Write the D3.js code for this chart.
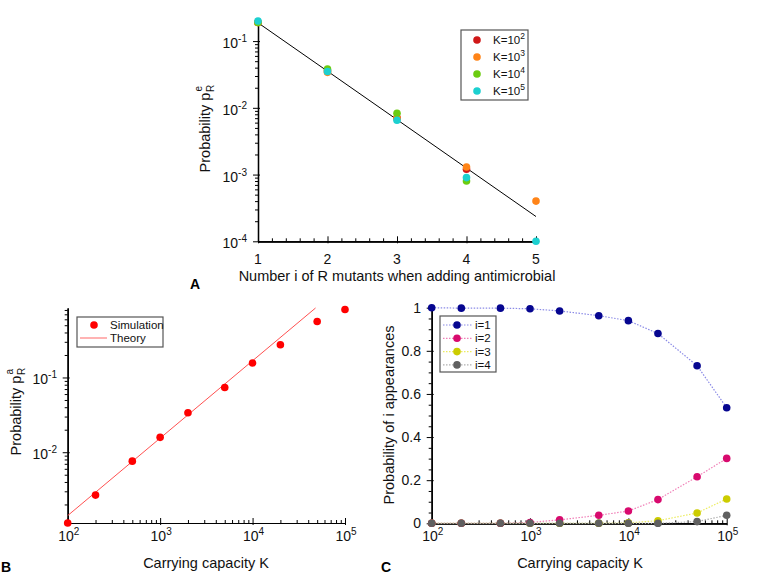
<!DOCTYPE html>
<html>
<head>
<meta charset="utf-8">
<script src="https://cdn.jsdelivr.net/npm/d3@7"></script>
<style>
  body { margin: 0; background: #fff; }
  svg { font-family: "Liberation Sans", Arial, sans-serif; }
</style>
</head>
<body>
<div id="chart"></div>
<script>
// ---- panel A data: probability vs number i of R mutants
var mutants = [1, 2, 3, 4, 5];
var pK2 = [0.19, 0.036, 0.0071, 0.0012, null];
var pK3 = [0.19, 0.034, 0.0070, 0.0013, 0.0004];
var pK4 = [0.19, 0.038, 0.0083, 0.0008, null];
var pK5 = [0.2, 0.035, 0.0065, 0.0009, 0.0001];
var theoryA = [0.188, 0.0354, 0.00665, 0.00125, 0.000235];
var legendA = ["2", "3", "4", "5"];

// ---- panel B data: probability vs carrying capacity
var capacity = [100, 200, 500, 1000, 2000, 5000, 10000, 20000, 50000, 100000];
var simB = [0.00113, 0.00267, 0.0076, 0.0158, 0.0337, 0.0735, 0.156, 0.274, 0.56, 0.81];
var theoryK = [100, 48000];
var theoryB = [0.00142, 0.85];

// ---- panel C data: probability of i appearances
var appear1 = [1.0, 0.998, 0.998, 0.995, 0.985, 0.963, 0.940, 0.880, 0.731, 0.536];
var appear2 = [0, 0, 0, 0.004, 0.016, 0.037, 0.057, 0.110, 0.216, 0.301];
var appear3 = [0, 0, 0, 0, 0, 0, 0.002, 0.012, 0.048, 0.113];
var appear4 = [0, 0, 0, 0, 0, 0, 0, 0, 0.008, 0.037];
var legendC = ["i=1", "i=2", "i=3", "i=4"];

var colA = ["#d01818", "#ff8418", "#6ccc10", "#1cd0d0"];
var colC = ["#060690", "#d80a6e", "#cccc00", "#606060"];
var lineC = ["#8a8ae6", "#f080b8", "#ecec60", "#b0b0b0"];

var svg = d3.select("#chart").append("svg")
  .attr("width", 764)
  .attr("height", 574);

function logMinors(lo, hi) { // 2..9 times each decade, inside [lo,hi]
  var out = [];
  for (var e = Math.floor(Math.log10(lo)); e <= Math.ceil(Math.log10(hi)); e++) {
    for (var m = 2; m <= 9; m++) {
      var v = m * Math.pow(10, e);
      if (v >= lo * 0.999 && v <= hi * 1.001) out.push(v);
    }
  }
  return out;
}

// draws one axis with inward minor ticks and crossing majors, no labels
function drawAxis(axisFn, scale, pos, majors, minors, inwardSign) {
  var g = svg.append("g").attr("transform", pos);
  g.append("g").call(axisFn(scale).tickValues(minors).tickSize(-3 * inwardSign).tickSizeOuter(0).tickFormat(""));
  g.append("g").call(axisFn(scale).tickValues(majors).tickSize(-5 * inwardSign).tickSizeOuter(0).tickFormat(""));
  g.append("g").call(axisFn(scale).tickValues(majors).tickSize(2 * inwardSign).tickSizeOuter(0).tickFormat(""));
  g.selectAll("path.domain").attr("stroke", "#000").attr("stroke-width", 1.2);
  g.selectAll(".tick line").attr("stroke", "#000").attr("stroke-width", 1);
  return g;
}

function powLabel(x, y, exp, anchor) { // "10" with superscript exponent
  var t = svg.append("text").attr("x", x).attr("y", y)
    .attr("text-anchor", anchor).attr("font-size", 14).attr("fill", "#111");
  t.append("tspan").text("10");
  t.append("tspan").attr("dy", -6).attr("font-size", 10).text(exp);
}

function probLabel(cx, cy, sup) { // rotated "Probability p" with sub R and sup
  var g = svg.append("g").attr("transform", "translate(" + cx + "," + cy + ") rotate(-90)");
  var main = g.append("text").attr("font-size", 14.5).attr("fill", "#111").text("Probability p");
  var w = main.node().getComputedTextLength();
  var total = w + 9;
  main.attr("x", -total / 2);
  g.append("text").attr("x", -total / 2 + w + 0.5).attr("y", 4).attr("font-size", 10).attr("fill", "#111").text("R");
  g.append("text").attr("x", -total / 2 + w + 1).attr("y", -8).attr("font-size", 10).attr("fill", "#111").text(sup);
}

// ================= PANEL A =================
var xA = d3.scaleLinear().domain([1, 5]).range([258, 536]);
var yA = d3.scaleLog().domain([1e-4, 0.2]).range([241.3, 21]);

var minorX = d3.range(1, 5.01, 0.2).filter(function (v) { return Math.abs(v - Math.round(v)) > 0.01; });
drawAxis(d3.axisBottom, xA, "translate(0," + yA(1e-4) + ")", mutants, minorX, 1);
drawAxis(d3.axisLeft, yA, "translate(" + xA(1) + ",0)", [1e-4, 1e-3, 1e-2, 1e-1], logMinors(1e-4, 0.2), -1);

mutants.forEach(function (m) {
  svg.append("text").attr("x", xA(m)).attr("y", 264).attr("text-anchor", "middle")
    .attr("font-size", 14).attr("fill", "#111").text(m);
});
[1e-4, 1e-3, 1e-2, 1e-1].forEach(function (v) {
  powLabel(247, yA(v) + 7, String(Math.round(Math.log10(v))), "end");
});
svg.append("text").attr("x", 397).attr("y", 281).attr("text-anchor", "middle")
  .attr("font-size", 14.5).attr("fill", "#111").text("Number i of R mutants when adding antimicrobial");
probLabel(210, 128, "e");

svg.append("path")
  .datum(mutants.map(function (m, i) { return [m, theoryA[i]]; }))
  .attr("d", d3.line().x(function (d) { return xA(d[0]); }).y(function (d) { return yA(d[1]); }))
  .attr("fill", "none").attr("stroke", "#000").attr("stroke-width", 1);

[pK2, pK3, pK4, pK5].forEach(function (series, s) {
  svg.append("g").selectAll("circle")
    .data(mutants.map(function (m, i) { return [m, series[i]]; }).filter(function (d) { return d[1] != null; }))
    .join("circle")
    .attr("cx", function (d) { return xA(d[0]); })
    .attr("cy", function (d) { return yA(d[1]); })
    .attr("r", 3.8)
    .attr("fill", colA[s]);
});

svg.append("rect").attr("x", 461).attr("y", 30).attr("width", 67).attr("height", 70)
  .attr("fill", "#fff").attr("stroke", "#555").attr("stroke-width", 1.2);
legendA.forEach(function (e, i) {
  var ly = 40 + i * 17;
  svg.append("circle").attr("cx", 477).attr("cy", ly).attr("r", 3.8).attr("fill", colA[i]);
  var t = svg.append("text").attr("x", 493).attr("y", ly + 4).attr("font-size", 11.5).attr("fill", "#111");
  t.append("tspan").text("K=10");
  t.append("tspan").attr("dy", -5).attr("font-size", 8.5).text(e);
});

svg.append("text").attr("x", 190).attr("y", 289).attr("font-size", 14).attr("font-weight", "bold").text("A");

// ================= PANEL B =================
var xB = d3.scaleLog().domain([100, 1e5]).range([67.7, 345]);
var yB = d3.scaleLog().domain([0.00113, 0.85]).range([523, 308]);
var decadesK = [100, 1000, 10000, 100000];

drawAxis(d3.axisBottom, xB, "translate(0,523)", decadesK, logMinors(100, 1e5), 1);
drawAxis(d3.axisLeft, yB, "translate(67.7,0)", [1e-2, 1e-1], logMinors(0.00113, 0.85), -1);

decadesK.forEach(function (k) {
  powLabel(xB(k) + 1, 541, String(Math.round(Math.log10(k))), "middle");
});
[1e-2, 1e-1].forEach(function (v) {
  powLabel(57, yB(v) + 7, String(Math.round(Math.log10(v))), "end");
});
svg.append("text").attr("x", 206).attr("y", 568).attr("text-anchor", "middle")
  .attr("font-size", 14.5).attr("fill", "#111").text("Carrying capacity K");
probLabel(21, 411, "a");

svg.append("path")
  .datum(theoryK.map(function (k, i) { return [k, theoryB[i]]; }))
  .attr("d", d3.line().x(function (d) { return xB(d[0]); }).y(function (d) { return yB(d[1]); }))
  .attr("fill", "none").attr("stroke", "#ff5050").attr("stroke-width", 1);

svg.append("g").selectAll("circle")
  .data(capacity.map(function (k, i) { return [k, simB[i]]; }))
  .join("circle")
  .attr("cx", function (d) { return xB(d[0]); })
  .attr("cy", function (d) { return yB(d[1]); })
  .attr("r", 3.8)
  .attr("fill", "#ff0000");

svg.append("rect").attr("x", 77).attr("y", 317).attr("width", 86).attr("height", 30)
  .attr("fill", "#fff").attr("stroke", "#555").attr("stroke-width", 1.2);
svg.append("circle").attr("cx", 94).attr("cy", 325).attr("r", 3.8).attr("fill", "#ff0000");
svg.append("line").attr("x1", 80).attr("x2", 107).attr("y1", 338).attr("y2", 338)
  .attr("stroke", "#ff8080").attr("stroke-width", 1.2);
svg.append("text").attr("x", 110).attr("y", 329).attr("font-size", 11.5).attr("fill", "#111").text("Simulation");
svg.append("text").attr("x", 110).attr("y", 342).attr("font-size", 11.5).attr("fill", "#111").text("Theory");

svg.append("text").attr("x", 1).attr("y", 572).attr("font-size", 14).attr("font-weight", "bold").text("B");

// ================= PANEL C =================
var xC = d3.scaleLog().domain([100, 1e5]).range([431.7, 726.7]);
var yC = d3.scaleLinear().domain([0, 1]).range([523.3, 307.7]);
var ticksC = [0, 0.2, 0.4, 0.6, 0.8, 1];
var minorC = d3.range(0, 1.001, 0.05).filter(function (v) { return Math.abs(v * 5 - Math.round(v * 5)) > 0.01; });

drawAxis(d3.axisBottom, xC, "translate(0," + yC(0) + ")", decadesK, logMinors(100, 1e5), 1);
drawAxis(d3.axisLeft, yC, "translate(" + xC(100) + ",0)", ticksC, minorC, -1);

decadesK.forEach(function (k) {
  powLabel(xC(k) + 1, 541, String(Math.round(Math.log10(k))), "middle");
});
ticksC.forEach(function (v) {
  svg.append("text").attr("x", 421).attr("y", yC(v) + 5).attr("text-anchor", "end")
    .attr("font-size", 14).attr("fill", "#111").text(v === 0 || v === 1 ? String(v) : v.toFixed(1));
});
svg.append("text").attr("x", 580).attr("y", 568).attr("text-anchor", "middle")
  .attr("font-size", 14.5).attr("fill", "#111").text("Carrying capacity K");
svg.append("text").attr("transform", "translate(394,415) rotate(-90)").attr("text-anchor", "middle")
  .attr("font-size", 14.5).attr("fill", "#111").text("Probability of i appearances");

var lineCgen = d3.line().x(function (d) { return xC(d[0]); }).y(function (d) { return yC(d[1]); });
[appear1, appear2, appear3, appear4].forEach(function (series, s) {
  var pts = capacity.map(function (k, i) { return [k, series[i]]; });
  svg.append("path").datum(pts).attr("d", lineCgen)
    .attr("fill", "none").attr("stroke", lineC[s]).attr("stroke-width", 1.2)
    .attr("stroke-dasharray", "1.5,1.5");
});
[appear4, appear3, appear2, appear1].forEach(function (series, r) {
  var s = 3 - r;
  svg.append("g").selectAll("circle")
    .data(capacity.map(function (k, i) { return [k, series[i]]; }))
    .join("circle")
    .attr("cx", function (d) { return xC(d[0]); })
    .attr("cy", function (d) { return yC(d[1]); })
    .attr("r", 3.8)
    .attr("fill", colC[s]);
});
// grey i=4 markers sit on top at zero in the reference
svg.append("g").selectAll("circle")
  .data(capacity.map(function (k, i) { return [k, appear4[i]]; }).filter(function (d) { return d[1] === 0; }))
  .join("circle")
  .attr("cx", function (d) { return xC(d[0]); })
  .attr("cy", function (d) { return yC(d[1]); })
  .attr("r", 3.8)
  .attr("fill", colC[3]);

svg.append("rect").attr("x", 440).attr("y", 316).attr("width", 56).attr("height", 56)
  .attr("fill", "#fff").attr("stroke", "#555").attr("stroke-width", 1.2);
legendC.forEach(function (name, i) {
  var ly = 325 + i * 13.3;
  svg.append("line").attr("x1", 443).attr("x2", 472).attr("y1", ly).attr("y2", ly)
    .attr("stroke", lineC[i]).attr("stroke-width", 1.2).attr("stroke-dasharray", "1.5,1.5");
  svg.append("circle").attr("cx", 457).attr("cy", ly).attr("r", 3.8).attr("fill", colC[i]);
  svg.append("text").attr("x", 475).attr("y", ly + 4).attr("font-size", 11.5).attr("fill", "#111").text(name);
});

svg.append("text").attr("x", 381).attr("y", 572).attr("font-size", 14).attr("font-weight", "bold").text("C");
</script>
</body>
</html>
